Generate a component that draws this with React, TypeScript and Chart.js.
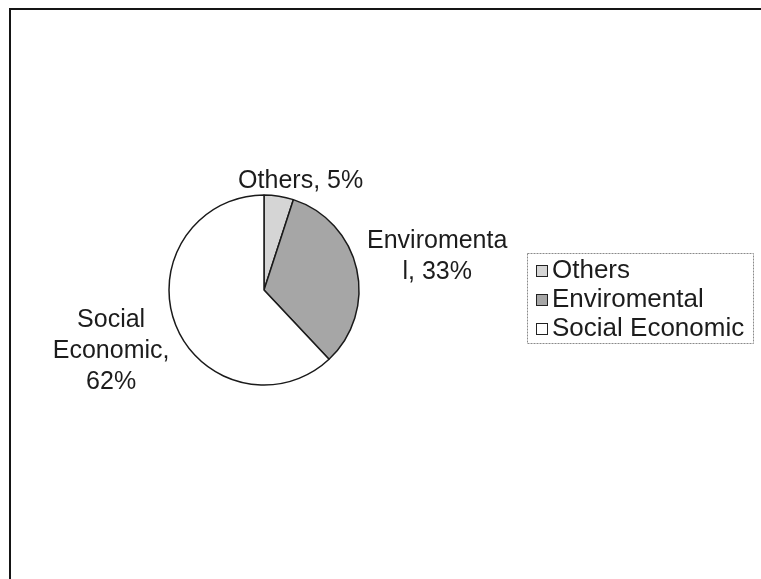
import React, { useEffect, useRef } from "react";
import { Chart, registerables } from "chart.js";

Chart.register(...registerables);

const categories = ["Others", "Enviromental", "Social Economic"];
const values = [5, 33, 62];
const sliceColors = ["#d5d5d5", "#a6a6a6", "#ffffff"];
const dataLabelLines = [["Others, 5%"], ["Enviromenta", "l, 33%"], ["Social", "Economic,", "62%"]];

const FONT_FAMILY = '"Liberation Sans", Arial, Helvetica, sans-serif';
const FONT = `25px ${FONT_FAMILY}`;
const LEGEND_FONT = `26px ${FONT_FAMILY}`;
const TEXT_COLOR = "#1c1c1c";

const framePlugin = {
  id: "frame",
  beforeDraw(chart: any) {
    const ctx = chart.ctx;
    ctx.save();
    ctx.fillStyle = "#ffffff";
    ctx.fillRect(0, 0, chart.width, chart.height);
    ctx.strokeStyle = "#151515";
    ctx.lineWidth = 2;
    ctx.beginPath();
    ctx.moveTo(10, chart.height);
    ctx.lineTo(10, 9);
    ctx.lineTo(chart.width, 9);
    ctx.stroke();
    ctx.restore();
  },
};

const labelPlugin = {
  id: "sliceLabels",
  afterDatasetsDraw(chart: any) {
    const ctx = chart.ctx;
    const meta = chart.getDatasetMeta(0);
    const lineH = 31;
    const glyphH = 18;
    ctx.save();
    ctx.font = FONT;
    ctx.fillStyle = TEXT_COLOR;
    ctx.textAlign = "center";
    ctx.textBaseline = "middle";
    meta.data.forEach((arc: any, i: number) => {
      const { x, y, startAngle, endAngle, outerRadius } = arc.getProps(
        ["x", "y", "startAngle", "endAngle", "outerRadius"],
        true
      );
      const mid = (startAngle + endAngle) / 2;
      const dx = Math.cos(mid);
      const dy = Math.sin(mid);
      const lines = dataLabelLines[i];
      const w = Math.max(...lines.map((l) => ctx.measureText(l).width));
      const h = (lines.length - 1) * lineH + glyphH;
      const gx = 12;
      const gy = 6 + 28 * dx * dx;
      // labels near the top are pushed slightly to the right, as in the source
      const cx = x + dx * (outerRadius + gx + w / 2) + 12 * (1 - Math.abs(dx));
      const cy = y + dy * (outerRadius + gy + h / 2);
      lines.forEach((l, k) => {
        ctx.fillText(l, cx, cy - ((lines.length - 1) * lineH) / 2 + k * lineH);
      });
    });
    ctx.restore();
  },
};

const legendPlugin = {
  id: "boxLegend",
  afterDraw(chart: any) {
    const ctx = chart.ctx;
    const bx = 527;
    const by = 253;
    const bw = 226;
    const bh = 90;
    ctx.save();
    ctx.strokeStyle = "#8a8a8a";
    ctx.lineWidth = 1;
    ctx.setLineDash([2, 1]);
    ctx.strokeRect(bx + 0.5, by + 0.5, bw, bh);
    ctx.setLineDash([]);
    ctx.font = LEGEND_FONT;
    ctx.textBaseline = "middle";
    ctx.textAlign = "left";
    const labels: string[] = chart.data.labels;
    const colors: string[] = chart.data.datasets[0].backgroundColor;
    labels.forEach((lab, i) => {
      const rowY = by + 17 + i * 29;
      ctx.fillStyle = colors[i];
      ctx.fillRect(536, rowY - 5, 11, 11);
      ctx.strokeStyle = "#222";
      ctx.lineWidth = 1;
      ctx.strokeRect(536.5, rowY - 4.5, 11, 11);
      ctx.fillStyle = TEXT_COLOR;
      ctx.fillText(lab, 552, rowY + 1);
    });
    ctx.restore();
  },
};

export default function App() {
  const canvasRef = useRef<HTMLCanvasElement | null>(null);

  useEffect(() => {
    if (!canvasRef.current) return;
    const chart = new Chart(canvasRef.current, {
      type: "pie",
      data: {
        labels: categories,
        datasets: [
          {
            data: values,
            backgroundColor: sliceColors,
            borderColor: "#1a1a1a",
            borderWidth: 1.5,
            radius: 95,
          } as any,
        ],
      },
      options: {
        responsive: false,
        maintainAspectRatio: false,
        animation: false,
        layout: {
          padding: { left: 168, right: 761 - 360, top: 195, bottom: 579 - 385 },
        },
        plugins: {
          legend: { display: false },
          tooltip: { enabled: false },
          title: { display: false },
        },
      },
      plugins: [framePlugin, labelPlugin, legendPlugin],
    });
    return () => chart.destroy();
  }, []);

  return (
    <div style={{ position: "absolute", left: 0, top: 0, width: 761, height: 579, background: "#fff" }}>
      <canvas ref={canvasRef} width={761} height={579} style={{ display: "block" }} />
    </div>
  );
}
